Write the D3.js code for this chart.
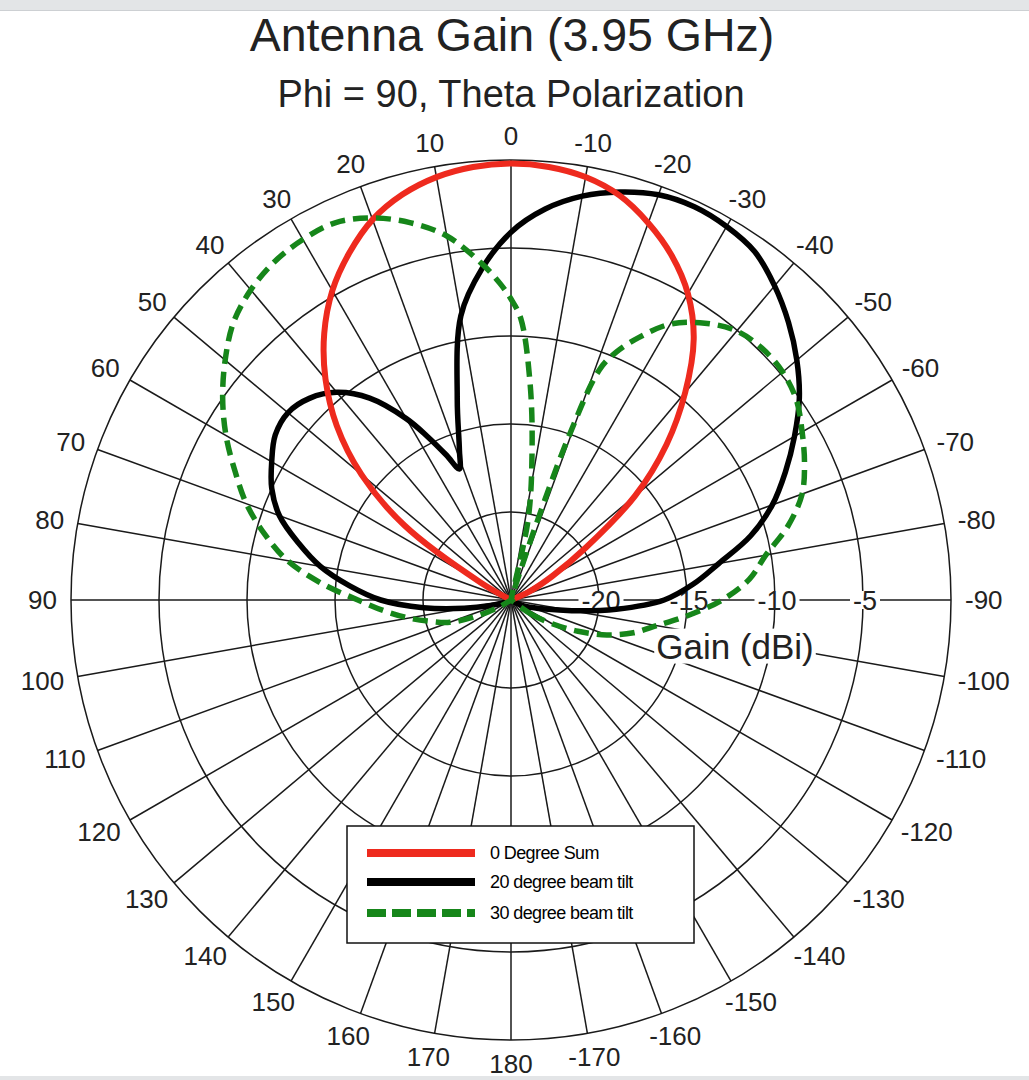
<!DOCTYPE html>
<html>
<head>
<meta charset="utf-8">
<script src="https://cdn.jsdelivr.net/npm/d3@7"></script>
<style>
  html, body { margin: 0; padding: 0; background: #fff; }
  svg { display: block; font-family: "Liberation Sans", Arial, Helvetica, sans-serif; }
</style>
</head>
<body>
<svg id="chart" width="1029" height="1080"></svg>
<script>

// angles in degrees, positive = counter-clockwise from top
var redAngles   = [-70, -65, -60, -55, -50, -45, -40, -35, -30, -25, -20, -15, -10, -5, 0, 5, 10, 15, 20, 25, 30, 35, 40, 45, 50, 55, 60, 65]
  , redGain     = [-25, -23.8, -22.3, -19.8, -15.8, -12.5, -9.6, -6.9, -4.9, -3.4, -2.2, -1.2, -0.6, -0.3, -0.2, -0.3, -0.6, -1.15, -2.0, -3.25, -4.7, -6.5, -8.6, -11.0, -13.9, -17.6, -23.0, -25];

var blackAngles = [-130, -120, -115, -110, -105, -100, -95, -90, -85, -80, -75, -70, -65, -60, -55, -50, -45, -40, -35, -30, -25, -20, -15, -10, -5, 0, 5, 10, 15, 19, 21.5, 24, 27, 30, 35, 40, 45, 50, 55, 60, 65, 70, 75, 80, 85, 90, 95, 100, 105, 110, 120]
  , blackGain   = [-25, -24.8, -24.2, -23.8, -23.0, -21.5, -19.0, -16.3, -14.6, -13.0, -10.9, -9.2, -7.8, -6.4, -5.0, -3.8, -2.7, -1.7, -0.85, -0.5, -0.35, -0.5, -1.0, -1.7, -2.7, -4.1, -6.1, -8.6, -13.2, -16.0, -17.0, -16.0, -14.6, -13.1, -11.0, -9.6, -8.8, -8.45, -8.65, -9.3, -10.0, -11.0, -12.5, -14.0, -15.8, -17.6, -20.0, -22.3, -23.8, -24.5, -25];

var greenAngles = [-130, -125, -120, -115, -110, -105, -100, -95, -90, -85, -80, -75, -70, -65, -60, -55, -50, -45, -40, -35, -30, -26, -23, -21, -19.5, -18.5, -17, -15.5, -12, -8, -5, -2, 0, 2, 5, 10, 15, 20, 25, 30, 35, 40, 45, 50, 55, 60, 65, 70, 75, 80, 85, 90, 95, 100, 105, 110, 115, 120, 125]
  , greenGain   = [-25, -23.6, -22.3, -20.8, -19.2, -17.8, -16.6, -14.9, -13.0, -11.4, -10.3, -8.7, -7.4, -6.6, -5.9, -5.2, -4.85, -4.8, -5.05, -5.8, -6.9, -8.4, -9.7, -11.0, -15.0, -20.0, -24.5, -25, -20.3, -16.4, -12.6, -9.0, -7.9, -7.0, -5.8, -4.0, -2.8, -1.9, -1.35, -1.35, -1.55, -2.0, -2.7, -3.8, -5.0, -6.3, -7.7, -9.0, -10.5, -12.1, -14.2, -16.3, -17.8, -19.1, -20.3, -21.3, -22.8, -24.2, -25];

var ringValues  = [-20, -15, -10, -5, 0]
  , ringLabels  = ["-20", "-15", "-10", "-5"]
  , spokeAngles = d3.range(0, 360, 10)
  , angleLabels = [0, 10, 20, 30, 40, 50, 60, 70, 80, 90, 100, 110, 120, 130, 140, 150, 160, 170, 180,
                   -170, -160, -150, -140, -130, -120, -110, -100, -90, -80, -70, -60, -50, -40, -30, -20, -10];

var seriesNames = ["0 Degree Sum", "20 degree beam tilt", "30 degree beam tilt"];

var width = 1029
  , height = 1080
  , cx = 511
  , cy = 600
  , R = 440
  , rad = Math.PI / 180;

var svg = d3.select('#chart');

svg.append('rect').attr('x', 0).attr('y', 0).attr('width', width).attr('height', 10).attr('fill', '#e3e5e7');
svg.append('line').attr('x1', 0).attr('x2', width).attr('y1', 10.5).attr('y2', 10.5).attr('stroke', '#cdd0d3');
svg.append('rect').attr('x', 0).attr('y', 1076).attr('width', width).attr('height', 4).attr('fill', '#e3e5e7');

svg.append('text')
  .attr('x', cx + 1).attr('y', 51)
  .attr('text-anchor', 'middle')
  .style('font-size', '46.5px')
  .attr('fill', '#222')
  .text('Antenna Gain (3.95 GHz)');

svg.append('text')
  .attr('x', cx).attr('y', 107)
  .attr('text-anchor', 'middle')
  .style('font-size', '38px')
  .attr('fill', '#222')
  .text('Phi = 90, Theta Polarization');

var r = d3.scaleLinear().domain([-25, 0]).range([0, R]).clamp(true);

var g = svg.append('g').attr('transform', 'translate(' + cx + ',' + cy + ')');

var grid = g.append('g').attr('class', 'grid')
  .attr('fill', 'none')
  .attr('stroke', '#1a1a1a')
  .attr('stroke-width', 1.5);

grid.selectAll('circle')
  .data(ringValues)
  .enter().append('circle')
  .attr('r', function (d) { return r(d); });

grid.selectAll('line')
  .data(spokeAngles)
  .enter().append('line')
  .attr('x1', 0).attr('y1', 0)
  .attr('x2', function (d) { return -R * Math.sin(d * rad); })
  .attr('y2', function (d) { return -R * Math.cos(d * rad); });

// angle labels round the outside
g.selectAll('.angle-label')
  .data(angleLabels)
  .enter().append('text')
  .attr('class', 'angle-label')
  .style('font-size', '26px')
  .attr('fill', '#222')
  .attr('text-anchor', 'middle')
  .attr('dy', '0.36em')
  .text(function (d) { return d; })
  .each(function (d) {
    var w = this.getComputedTextLength()
      , s = Math.sin(d * rad)
      , c = Math.cos(d * rad)
      , rr = R + 14;
    d3.select(this)
      .attr('x', -rr * s - s * w / 2)
      .attr('y', -rr * c - c * 10);
  });

// radial gain labels on the -90 axis
var rl = g.selectAll('.ring-label')
  .data(ringLabels)
  .enter().append('g')
  .attr('class', 'ring-label')
  .attr('transform', function (d) { return 'translate(' + (r(+d) + 2) + ',0)'; });

rl.append('rect')
  .attr('fill', '#fff');

rl.append('text')
  .style('font-size', '27px')
  .attr('fill', '#222')
  .attr('text-anchor', 'middle')
  .attr('dy', '0.36em')
  .text(function (d) { return d; })
  .each(function () {
    var b = this.getBBox();
    d3.select(this.parentNode).select('rect')
      .attr('x', b.x - 3).attr('y', -9).attr('width', b.width + 6).attr('height', 18);
  });

var gainTitle = g.append('g').attr('transform', 'translate(' + (r(-12.5) + 4) + ',' + 46 + ')');
gainTitle.append('rect').attr('fill', '#fff');
gainTitle.append('text')
  .style('font-size', '35px')
  .attr('fill', '#222')
  .attr('text-anchor', 'middle')
  .attr('dy', '0.36em')
  .text('Gain (dBi)')
  .each(function () {
    var b = this.getBBox();
    d3.select(this.parentNode).select('rect')
      .attr('x', b.x - 2).attr('y', b.y + 2).attr('width', b.width + 4).attr('height', b.height - 4);
  });

function pts(angles, gains) {
  return angles.map(function (a, i) { return [a, gains[i]]; });
}

var line = d3.lineRadial()
  .angle(function (d) { return -d[0] * rad; })
  .radius(function (d) { return r(d[1]); })
  .curve(d3.curveCatmullRomClosed.alpha(0.5));

g.append('path')
  .datum(pts(blackAngles, blackGain))
  .attr('d', line)
  .attr('fill', 'none')
  .attr('stroke', '#000')
  .attr('stroke-width', 5.5)
  .attr('stroke-linejoin', 'round');

g.append('path')
  .datum(pts(redAngles, redGain))
  .attr('d', line)
  .attr('fill', 'none')
  .attr('stroke', '#ee2a1e')
  .attr('stroke-width', 6)
  .attr('stroke-linejoin', 'round');

g.append('path')
  .datum(pts(greenAngles, greenGain))
  .attr('d', line)
  .attr('fill', 'none')
  .attr('stroke', '#16861a')
  .attr('stroke-width', 5.5)
  .attr('stroke-dasharray', '15,8');

// legend
var legend = svg.append('g').attr('transform', 'translate(347,826)');

legend.append('rect')
  .attr('width', 347).attr('height', 117)
  .attr('fill', '#fff')
  .attr('stroke', '#111')
  .attr('stroke-width', 1.5);

var legendColors = ['#ee2a1e', '#000', '#16861a']
  , legendDash   = [null, null, '19,6'];

var item = legend.selectAll('.item')
  .data(seriesNames)
  .enter().append('g')
  .attr('class', 'item')
  .attr('transform', function (d, i) { return 'translate(0,' + [27, 56, 87][i] + ')'; });

item.append('line')
  .attr('x1', 20).attr('x2', 128)
  .attr('stroke', function (d, i) { return legendColors[i]; })
  .attr('stroke-width', 8)
  .attr('stroke-dasharray', function (d, i) { return legendDash[i]; });

item.append('text')
  .attr('x', 143)
  .attr('dy', '0.36em')
  .style('font-size', '18px')
  .style('letter-spacing', '-0.6px')
  .attr('fill', '#000')
  .text(function (d) { return d; });

</script>
</body>
</html>
